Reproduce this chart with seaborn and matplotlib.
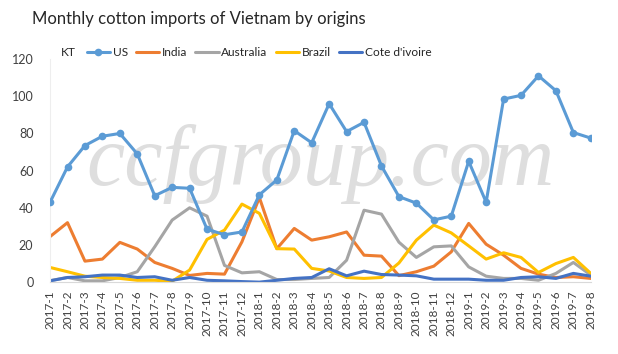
import matplotlib
matplotlib.use("Agg")
import matplotlib.pyplot as plt
import seaborn as sns
import pandas as pd

months = ["2017-1", "2017-2", "2017-3", "2017-4", "2017-5", "2017-6", "2017-7", "2017-8",
          "2017-9", "2017-10", "2017-11", "2017-12", "2018-1", "2018-2", "2018-3", "2018-4",
          "2018-5", "2018-6", "2018-7", "2018-8", "2018-9", "2018-10", "2018-11", "2018-12",
          "2019-1", "2019-2", "2019-3", "2019-4", "2019-5", "2019-6", "2019-7", "2019-8"]

us = [43, 62, 73.5, 78.5, 80, 69, 46.5, 51, 50.5, 28.5, 25.5, 27, 47, 55, 81.5, 75,
      96, 81, 86, 62.5, 46, 42.5, 33.5, 35.5, 65, 43, 98.5, 100.5, 111, 103, 80.5, 77.5]
india = [24.5, 32, 11.3, 12.4, 21.4, 17.8, 10.6, 7.4, 3.6, 4.7, 4.3, 21.7, 45.5, 18, 28.9, 22.6,
         24.4, 27, 14.5, 14, 3.5, 5.6, 8.6, 16.3, 31.6, 20.4, 14.5, 7.4, 4.3, 2.5, 2.9, 2]
australia = [0.8, 2.5, 0.7, 0.7, 2.5, 5.6, 19, 33.4, 40, 35.5, 9, 5, 5.6, 1.4, 1.4, 2,
             2.5, 11.8, 38.7, 36.6, 21.5, 13.3, 19, 19.5, 8.2, 3.2, 2, 2, 1, 4.7, 10.6, 3.8]
brazil = [7.9, 5.6, 3.2, 2.5, 2, 1, 1, 0.5, 6.5, 23, 28, 42, 37, 18, 17.8, 7.4,
          6, 2.5, 2, 2.5, 10.3, 22.6, 30.7, 26.5, 19.5, 12.4, 15.8, 13.3, 5.2, 10, 13.3, 4.7]
cote = [0.7, 2.5, 2.9, 3.8, 3.8, 2.5, 2.9, 1, 2.5, 1, 0.7, 0.3, 0, 1, 2, 2.5,
        7.2, 3.4, 5.9, 4.1, 3.8, 3.4, 1.6, 1.6, 1.6, 1, 1, 2.5, 2.9, 2, 4.7, 3.2]

series = {"US": us, "India": india, "Australia": australia, "Brazil": brazil, "Cote d'ivoire": cote}
colors = {"US": "#5B9BD5", "India": "#ED7D31", "Australia": "#A5A5A5",
          "Brazil": "#FFC000", "Cote d'ivoire": "#4472C4"}

sns.set_style("white")
plt.rcParams["font.family"] = ["Lato", "DejaVu Sans"]

fig = plt.figure(figsize=(6.18, 3.54), dpi=100)
ax = fig.add_axes([0.081, 0.203, 0.875, 0.630])

# watermark
ax.text(0.5, 0.53, "ccfgroup.com", transform=ax.transAxes, ha="center", va="center",
        fontsize=62, style="italic", family="Liberation Serif", color="#dedede", zorder=0)

idx = list(range(len(months)))
for name, vals in series.items():
    df = pd.DataFrame({"x": idx, "y": vals})
    sns.lineplot(data=df, x="x", y="y", ax=ax, color=colors[name], linewidth=2.2,
                 marker="o" if name == "US" else None, markersize=5.5,
                 markeredgewidth=0, label=name, zorder=3 if name == "US" else 2)

ax.set_xlim(0, len(months) - 1)
ax.set_ylim(0, 120)
ax.set_yticks(range(0, 121, 20))
ax.set_xticks(idx)
ax.set_xticklabels(months, rotation=90)
ax.set_xlabel("")
ax.set_ylabel("")
ax.tick_params(axis="y", length=0, labelsize=9, colors="#404040", pad=12)
ax.tick_params(axis="x", length=4, width=0.8, color="#d9d9d9", labelsize=8.5,
               labelcolor="#404040", pad=2, direction="out")
for s in ["top", "right"]:
    ax.spines[s].set_visible(False)
ax.spines["left"].set_color("#eeeeee")
ax.spines["bottom"].set_color("#d9d9d9")
ax.spines["left"].set_linewidth(0.8)
ax.spines["bottom"].set_linewidth(0.8)

leg = ax.legend(loc="center left", bbox_to_anchor=(0.068, 1.031), ncol=5, frameon=False,
                fontsize=8.6, handlelength=1.95, handletextpad=0.2, columnspacing=0.7,
                borderaxespad=0.0, borderpad=0.0)
for t in leg.get_texts():
    t.set_color("#262626")
fig.text(0.099, 0.853, "KT", fontsize=8.6, color="#262626", va="center")

fig.text(0.052, 0.945, "Monthly cotton imports of Vietnam by origins", fontsize=12,
         color="#262626", va="center", ha="left")

fig.savefig("out.png", dpi=100)
